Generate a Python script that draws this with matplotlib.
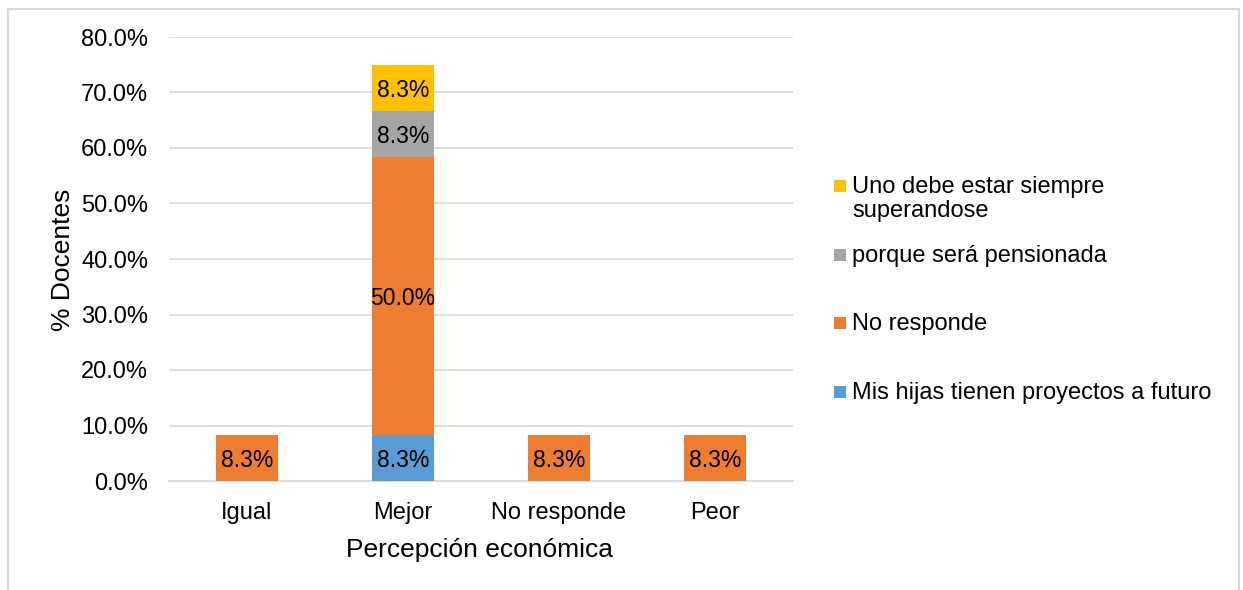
import matplotlib
matplotlib.use("Agg")
import matplotlib.pyplot as plt
import matplotlib.patches as mpatches
import numpy as np

plt.rcParams["font.family"] = ["Liberation Sans", "DejaVu Sans"]

# ---------------------------------------------------------------------------
categories = ["Igual", "Mejor", "No responde", "Peor"]
series_names = [
    "Mis hijas tienen proyectos a futuro",
    "No responde",
    "porque será pensionada",
    "Uno debe estar siempre\nsuperandose",
]
mis_hijas = [0.0, 8.33, 0.0, 0.0]
no_responde = [8.33, 50.0, 8.33, 8.33]
pensionada = [0.0, 8.33, 0.0, 0.0]
superandose = [0.0, 8.33, 0.0, 0.0]
colors = ["#5B9BD5", "#ED7D31", "#A5A5A5", "#FFC000"]
yticks = [0, 10, 20, 30, 40, 50, 60, 70, 80]
# ---------------------------------------------------------------------------

W, H = 1243, 590
FS = 17
fig = plt.figure(figsize=(W / 100, H / 100), dpi=100)

# outer border like the Excel chart area
fig.patches.append(mpatches.Rectangle((8 / W, -0.05), (1239 - 8) / W, (H - 9) / H + 0.05,
                                      transform=fig.transFigure, fill=False,
                                      edgecolor="#D9D9D9", linewidth=1.5))

ax = fig.add_axes([169 / W, 1 - 481 / H, (793 - 169) / W, (481 - 37) / H])

x = np.arange(len(categories))
bottom = np.zeros(len(categories))
for name, vals, col in zip(series_names,
                           [mis_hijas, no_responde, pensionada, superandose], colors):
    vals = np.array(vals)
    ax.bar(x, vals, 0.4, bottom=bottom, color=col, zorder=3)
    for xi, v, b in zip(x, vals, bottom):
        if v > 0:
            ax.text(xi, b + v / 2, f"{v:.1f}%", ha="center", va="center_baseline",
                    fontsize=16.5, color="black", zorder=4)
    bottom += vals

ax.set_xlim(-0.5, len(categories) - 0.5)
ax.set_ylim(0, 80)
ax.set_yticks(yticks)
ax.set_yticklabels([f"{t:.1f}%" for t in yticks], fontsize=FS)
ax.set_xticks(x)
ax.set_xticklabels(categories, fontsize=FS)
ax.tick_params(axis="both", length=0)
ax.tick_params(axis="y", pad=15)
ax.tick_params(axis="x", pad=15)
ax.grid(axis="y", color="#D9D9D9", linewidth=1.2, zorder=0)
for s in ["top", "right", "left"]:
    ax.spines[s].set_visible(False)
ax.spines["bottom"].set_color("#D9D9D9")
ax.spines["bottom"].set_linewidth(1.2)

fig.text(480 / W, 1 - 550 / H, "Percepción económica", fontsize=19,
         ha="center", va="center")
fig.text(63 / W, 1 - 260 / H, "% Docentes", rotation=90, fontsize=19,
         ha="center", va="center")

# legend, top entry is the last series
legend_y = [392, 323, 255, 186]
for name, col, ly in zip(series_names, colors, legend_y):
    fig.patches.append(mpatches.Rectangle((834 / W, 1 - (ly + 6) / H), 12 / W, 12 / H,
                                          transform=fig.transFigure, facecolor=col,
                                          edgecolor="none"))
    fig.text(852 / W, 1 - (ly - 10) / H, name, fontsize=FS, ha="left", va="top",
             linespacing=1.1)

fig.savefig("out.png", dpi=100)
